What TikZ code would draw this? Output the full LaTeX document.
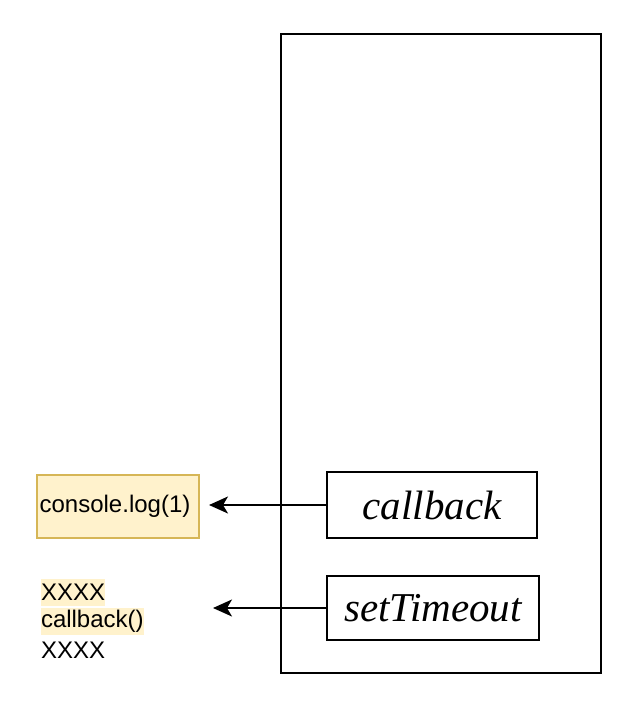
\documentclass[tikz,border=0pt]{standalone}
\usepackage{fontspec}
\setmainfont{Liberation Serif}
\newfontfamily\arialfont{Liberation Sans}
\usetikzlibrary{arrows.meta,positioning}
\definecolor{noteFill}{HTML}{FFF2CC}
\definecolor{noteLine}{HTML}{D6B656}
\begin{document}
\begin{tikzpicture}[x=1pt,y=-1pt,line width=2pt,
    fn/.style={draw,rectangle,inner sep=0pt,font=\fontsize{41}{44}\selectfont\itshape},
    note/.style={draw=noteLine,fill=noteFill,line width=1.6pt,inner sep=0pt,font=\arialfont\fontsize{24}{27}\selectfont},
    line/.style={anchor=west,inner xsep=0pt,inner ysep=0pt,minimum height=27pt,font=\arialfont\fontsize{24}{27}\selectfont},
    hl/.style={line,fill=noteFill},
    arr/.style={-{Stealth[length=19pt,width=17pt,inset=5pt]}}]
    \useasboundingbox (0,0) rectangle (639,707);
    \node[draw,rectangle,minimum width=320pt,minimum height=639pt] (stack) at (441,353.5) {};
    \node[fn,minimum width=210pt,minimum height=66pt] (cb) at (432,505) {callback};
    \node[fn,minimum width=212pt,minimum height=64pt] (st) at (433,608) {setTimeout};
    \node[note,minimum width=162pt,minimum height=63pt] (log) at (118,506.5) {\hspace*{-6pt}console.log(1)};
    \node[hl] (x1) at (40,592.5) {XXXX};
    \node[hl] (call) at (40,621.5) {callback()};
    \node[line] (x2) at (40,650.5) {XXXX};
    \coordinate (logIn) at (209,505);
    \coordinate (queueIn) at (213,608);
    \draw[arr] (cb.west) -- (logIn);
    \draw[arr] (st.west) -- (queueIn);
\end{tikzpicture}
\end{document}
